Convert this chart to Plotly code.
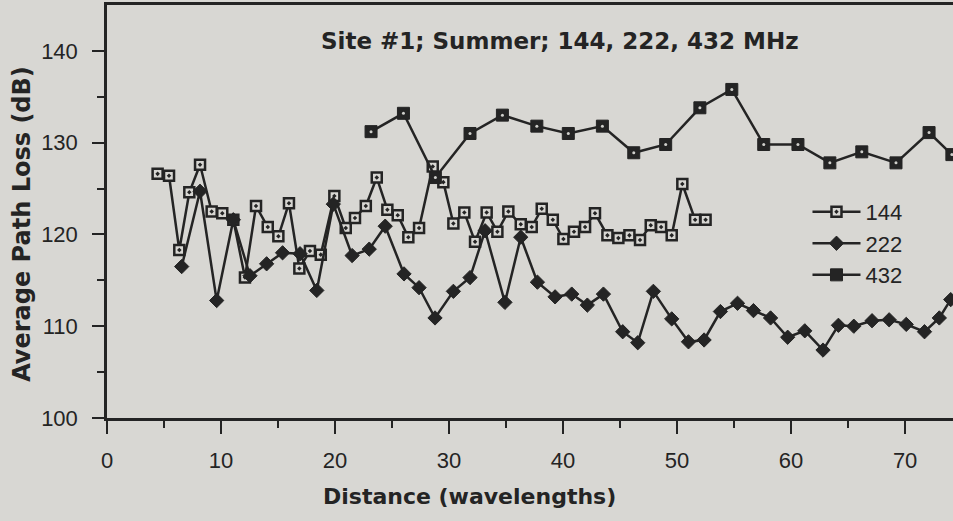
import plotly.graph_objects as go

# Distance (wavelengths) and average path loss (dB) for each frequency
dist_144 = [4.44, 5.44, 6.34, 7.22, 8.16, 9.18, 10.11, 11.08, 12.1, 13.07,
            14.1, 15.03, 15.96, 16.87, 17.8, 18.75, 19.94, 20.94, 21.75, 22.7,
            23.66, 24.59, 25.5, 26.43, 27.37, 28.57, 29.5, 30.38, 31.34, 32.28,
            33.3, 34.24, 35.2, 36.29, 37.25, 38.13, 39.1, 40.03, 40.96, 41.93,
            42.8, 43.89, 44.85, 45.82, 46.75, 47.69, 48.6, 49.53, 50.46, 51.58,
            52.5]
loss_144 = [126.6, 126.4, 118.3, 124.6, 127.6, 122.5, 122.3, 121.6, 115.3, 123.1,
            120.8, 119.8, 123.4, 116.3, 118.2, 117.8, 124.2, 120.7, 121.8, 123.1,
            126.2, 122.7, 122.1, 119.7, 120.7, 127.4, 125.7, 121.2, 122.4, 119.2,
            122.4, 120.3, 122.5, 121.1, 120.8, 122.8, 121.6, 119.5, 120.3, 120.8,
            122.3, 119.9, 119.6, 119.9, 119.4, 121.0, 120.8, 119.9, 125.5, 121.6,
            121.6]

dist_222 = [6.55, 8.16, 9.62, 11.08, 12.54, 14.0, 15.4, 16.93, 18.4, 19.85,
            21.5, 23.0, 24.4, 26.05, 27.37, 28.77, 30.38, 31.84, 33.16, 34.9,
            36.29, 37.75, 39.3, 40.76, 42.13, 43.54, 45.23, 46.55, 47.92, 49.53,
            51.0, 52.37, 53.8, 55.3, 56.7, 58.2, 59.7, 61.2, 62.8, 64.15,
            65.5, 67.1, 68.6, 70.1, 71.7, 73.0, 74.0]
loss_222 = [116.5, 124.7, 112.8, 121.6, 115.5, 116.8, 118.0, 117.9, 113.9, 123.3,
            117.7, 118.4, 120.9, 115.7, 114.2, 110.9, 113.8, 115.3, 120.4, 112.6,
            119.7, 114.8, 113.2, 113.5, 112.3, 113.5, 109.4, 108.2, 113.8, 110.8,
            108.3, 108.5, 111.6, 112.5, 111.7, 110.9, 108.8, 109.5, 107.4, 110.1,
            110.0, 110.6, 110.7, 110.2, 109.4, 110.9, 112.9]

dist_432 = [23.16, 26.0, 28.8, 31.84, 34.68, 37.7, 40.46, 43.45, 46.2, 49.0,
            52.0, 54.8, 57.6, 60.6, 63.4, 66.2, 69.2, 72.1, 74.1]
loss_432 = [131.2, 133.2, 126.2, 131.0, 133.0, 131.8, 131.0, 131.8, 128.9, 129.8,
            133.8, 135.8, 129.8, 129.8, 127.8, 129.0, 127.8, 131.1, 128.7]

series_names = ["144", "222", "432"]
x_ticks = [0, 10, 20, 30, 40, 50, 60, 70]
y_ticks = [100, 110, 120, 130, 140]

INK = "#242424"
PAPER = "#d8d7d3"
FONT = "Liberation Sans, Arial, sans-serif"
BOLD_FONT = "DejaVu Sans, Liberation Sans, sans-serif"

fig = go.Figure()

fig.add_trace(go.Scatter(
    x=dist_144, y=loss_144, name=series_names[0], mode="lines+markers",
    line=dict(color=INK, width=2.5),
    marker=dict(symbol="square-dot", size=10, color=PAPER,
                line=dict(color=INK, width=2.5)),
))
fig.add_trace(go.Scatter(
    x=dist_222, y=loss_222, name=series_names[1], mode="lines+markers",
    line=dict(color=INK, width=2.5),
    marker=dict(symbol="diamond", size=11, color=INK,
                line=dict(color=INK, width=1)),
))
fig.add_trace(go.Scatter(
    x=dist_432, y=loss_432, name=series_names[2], mode="lines+markers",
    line=dict(color=INK, width=2.5),
    marker=dict(symbol="square", size=12, color=INK,
                line=dict(color=INK, width=1)),
))
# light centre dots on the 432 MHz squares
fig.add_trace(go.Scatter(
    x=dist_432, y=loss_432, mode="markers", showlegend=False, hoverinfo="skip",
    marker=dict(symbol="circle", size=3, color="#cfcfcb"),
))

fig.update_layout(
    width=953, height=521,
    margin=dict(l=107, r=0, t=5, b=103),
    paper_bgcolor=PAPER, plot_bgcolor=PAPER,
    font=dict(family=FONT, color=INK, size=22),
    showlegend=True,
    legend=dict(x=0.828, y=0.55, xanchor="left", yanchor="top",
                bgcolor="rgba(0,0,0,0)", borderwidth=0, itemwidth=48,
                font=dict(size=22, family=FONT, color=INK)),
)

fig.update_xaxes(
    range=[0, 74.2], showgrid=False, zeroline=False,
    showline=True, linewidth=2.5, linecolor=INK, mirror=True,
    tickmode="array", tickvals=x_ticks, ticktext=[str(v) for v in x_ticks],
    ticks="outside", ticklen=13, tickwidth=2, tickcolor=INK,
    ticklabelstandoff=8,
    minor=dict(tickvals=[5, 15, 25, 35, 45, 55, 65], ticks="outside",
               ticklen=7, tickwidth=2, tickcolor=INK),
    tickfont=dict(size=22, family=FONT, color=INK),
)
fig.update_yaxes(
    range=[100, 145], showgrid=False, zeroline=False,
    showline=True, linewidth=2.5, linecolor=INK,
    tickmode="array", tickvals=y_ticks, ticktext=[str(v) for v in y_ticks],
    ticks="outside", ticklen=12, tickwidth=2, tickcolor=INK,
    ticklabelstandoff=10,
    minor=dict(tickvals=[105, 115, 125, 135], ticks="outside",
               ticklen=7, tickwidth=2, tickcolor=INK),
    tickfont=dict(size=22, family=FONT, color=INK),
)

# chart title and axis titles
fig.add_annotation(text="<b>Site #1; Summer; 144, 222, 432 MHz</b>",
                   xref="paper", yref="paper", x=0.5355, y=0.913,
                   xanchor="center", yanchor="middle", showarrow=False,
                   font=dict(size=23, family=BOLD_FONT, color=INK))
fig.add_annotation(text="<b>Distance (wavelengths)</b>",
                   xref="paper", yref="paper", x=0.429, y=-0.191,
                   xanchor="center", yanchor="middle", showarrow=False,
                   font=dict(size=22, family=BOLD_FONT, color=INK))
fig.add_annotation(text="<b>Average Path Loss (dB)</b>",
                   xref="paper", yref="paper", x=-0.1005, y=0.47,
                   xanchor="center", yanchor="middle", showarrow=False,
                   textangle=-90,
                   font=dict(size=24, family=BOLD_FONT, color=INK))

fig.write_html("out.html")
